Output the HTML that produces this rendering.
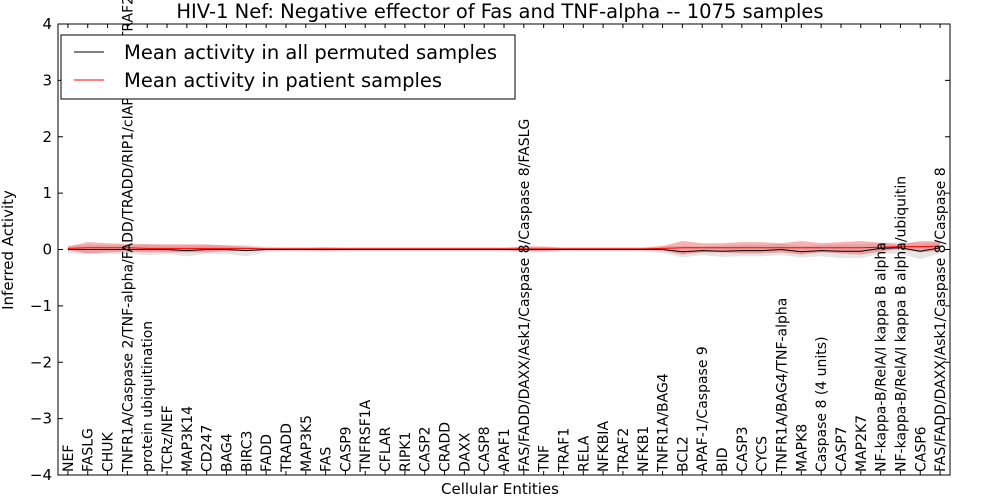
<!DOCTYPE html>
<html><head><meta charset="utf-8"><style>
html,body{margin:0;padding:0;background:#fff;}
svg{display:block;font-family:"DejaVu Sans","Liberation Sans",sans-serif;}
</style></head><body>
<svg id="chart" width="1000" height="500" viewBox="0 0 1000 500"></svg>
<script>
const categories=["NEF","FASLG","CHUK","TNFR1A/Caspase 2/TNF-alpha/FADD/TRADD/RIP1/cIAP1/cIAP2/TRAF2","protein ubiquitination","TCRz/NEF","MAP3K14","CD247","BAG4","BIRC3","FADD","TRADD","MAP3K5","FAS","CASP9","TNFRSF1A","CFLAR","RIPK1","CASP2","CRADD","DAXX","CASP8","APAF1","FAS/FADD/DAXX/Ask1/Caspase 8/Caspase 8/FASLG","TNF","TRAF1","RELA","NFKBIA","TRAF2","NFKB1","TNFR1A/BAG4","BCL2","APAF-1/Caspase 9","BID","CASP3","CYCS","TNFR1A/BAG4/TNF-alpha","MAPK8","Caspase 8 (4 units)","CASP7","MAP2K7","NF-kappa-B/RelA/I kappa B alpha","NF-kappa-B/RelA/I kappa B alpha/ubiquitin","CASP6","FAS/FADD/DAXX/Ask1/Caspase 8/Caspase 8"];
const patientMean=[0.02,0.03,0.03,0.03,0.02,0.02,0.02,0.02,0.02,0.02,0.01,0.01,0.01,0.01,0.01,0.01,0.01,0.01,0.01,0.01,0.01,0.01,0.01,0.01,0.01,0.01,0.01,0.01,0.01,0.01,0.02,0.03,0.03,0.03,0.03,0.03,0.03,0.03,0.03,0.03,0.03,0.04,0.05,0.05,0.06];
const patientSpread=[0.03,0.1,0.08,0.07,0.07,0.07,0.07,0.07,0.05,0.03,0.02,0.02,0.02,0.03,0.02,0.02,0.02,0.02,0.02,0.02,0.02,0.02,0.02,0.04,0.04,0.02,0.02,0.02,0.02,0.02,0.04,0.12,0.08,0.08,0.1,0.1,0.08,0.12,0.08,0.1,0.12,0.08,0.04,0.1,0.08];
const permutedMean=[0,0,0,0,0,0,-0.02,0,0,-0.02,0,0,0,0,0,0,0,0,0,0,0,0,0,0,0,0,0,0,0,0,0,-0.04,-0.02,-0.03,-0.02,-0.02,0,-0.04,-0.02,-0.03,-0.03,0.02,0.03,-0.03,0.03];
const permutedSpread=[0.07,0.08,0.08,0.08,0.1,0.08,0.1,0.08,0.08,0.1,0.05,0.04,0.04,0.04,0.04,0.04,0.04,0.04,0.04,0.04,0.04,0.04,0.04,0.05,0.05,0.04,0.04,0.04,0.04,0.04,0.06,0.1,0.08,0.1,0.1,0.1,0.1,0.1,0.1,0.12,0.12,0.1,0.1,0.14,0.1];
const yTicks=[-4,-3,-2,-1,0,1,2,3,4];

const L=58,R=950,T=24,B=475;
const svg=document.getElementById('chart');
const NS="http://www.w3.org/2000/svg";
function el(t,a,p){const e=document.createElementNS(NS,t);for(const k in a)e.setAttribute(k,a[k]);(p||svg).appendChild(e);return e;}
const n=categories.length;
const xs=i=>L+(R-L)*(i+0.5)/n;
const ys=v=>B-(v+4)/8*(B-T);

function band(mean,spread,fill,name){
  let d="";
  for(let i=0;i<n;i++)d+=(i?"L":"M")+xs(i)+","+ys(mean[i]+spread[i]);
  for(let i=n-1;i>=0;i--)d+="L"+xs(i)+","+ys(mean[i]-spread[i]);
  const p=el('path',{d:d+"Z",fill:fill,stroke:"none"});
  
  
}
function line(mean,color,name){
  let d="";
  for(let i=0;i<n;i++)d+=(i?"L":"M")+xs(i)+","+ys(mean[i]);
  const p=el('path',{d:d,fill:"none",stroke:color,"stroke-width":1});
  
  
}
band(permutedMean,permutedSpread,"rgba(150,150,150,0.25)","permuted-band");
band(patientMean,patientSpread,"rgba(240,60,60,0.4)","patient-band");
line(patientMean,"#ff0000","patient-mean-line");
line(permutedMean,"#000000","permuted-mean-line");

yTicks.forEach(v=>{
  const y=ys(v);
  el('line',{x1:L,x2:L+5,y1:y,y2:y,stroke:"#000"});
  el('line',{x1:R-5,x2:R,y1:y,y2:y,stroke:"#000"});
  const t=el('text',{x:L-6,y:y+5,"text-anchor":"end","font-size":15});
  t.textContent=(v<0?"\u2212":"")+Math.abs(v);
  
  
});
categories.forEach((c,i)=>{
  const x=xs(i);
  el('line',{x1:x,x2:x,y1:B,y2:B-4,stroke:"#000"});
  el('line',{x1:x,x2:x,y1:T,y2:T+4,stroke:"#000"});
  const t=el('text',{transform:`translate(${x+5},${B-3}) rotate(-90)`,"font-size":14});
  t.textContent=c;
  
  
});
const fr=el('rect',{x:L,y:T,width:R-L,height:B-T,fill:"none",stroke:"#000"});


</script>
<svg style="position:absolute;left:0;top:0" width="1000" height="500">
  <text x="500" y="18" text-anchor="middle" font-size="19.5" font-family="DejaVu Sans, sans-serif">HIV-1 Nef: Negative effector of Fas and TNF-alpha -- 1075 samples</text>
  <g font-family="DejaVu Sans, sans-serif" font-size="19.5">
    <rect x="61" y="35" width="454" height="64" fill="#fff" stroke="#000"/>
    <line x1="74" y1="52" x2="104" y2="52" stroke="#000"/>
    <text x="124" y="59">Mean activity in all permuted samples</text>
    <line x1="74" y1="80" x2="104" y2="80" stroke="#f00"/>
    <text x="124" y="87">Mean activity in patient samples</text>
  </g>
  <text x="500" y="494" text-anchor="middle" font-size="15" font-family="DejaVu Sans, sans-serif">Cellular Entities</text>
  <text transform="translate(13,250) rotate(-90)" text-anchor="middle" font-size="15" font-family="DejaVu Sans, sans-serif">Inferred Activity</text>
</svg>
</body></html>
